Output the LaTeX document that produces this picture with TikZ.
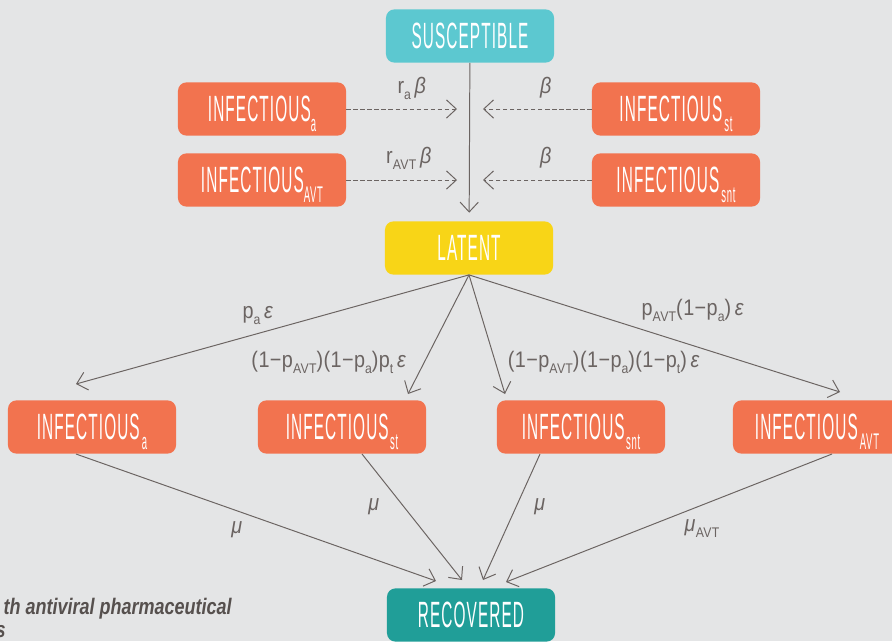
\documentclass[tikz,border=0pt]{standalone}
\usepackage{fontspec}
\setmainfont{Liberation Sans}
\newfontfamily\boxfont[FakeStretch=0.42,LetterSpace=3]{Liberation Sans}
\newfontfamily\ratefont[FakeStretch=0.88,LetterSpace=2]{Liberation Sans}
\newfontfamily\capfont[FakeStretch=0.8]{Liberation Sans}
\usetikzlibrary{arrows.meta}
\definecolor{bggrey}{HTML}{E4E5E6}
\definecolor{linegrey}{HTML}{6B6462}
\definecolor{susccol}{HTML}{5CC8D0}
\definecolor{infcol}{HTML}{F2734F}
\definecolor{latcol}{HTML}{F8D517}
\definecolor{reccol}{HTML}{209E98}
\newcommand\lo[1]{\smash{\raisebox{-0.5ex}{\scalebox{0.62}{#1}}}}
\tikzset{
  comp/.style={fill=#1, rounded corners=6pt, minimum width=4.2cm, minimum height=1.33cm,
    text=white, inner sep=0pt, font=\boxfont\fontsize{26}{28}\selectfont},
  flow/.style={draw=linegrey, line width=0.7pt, -{Straight Barb[length=7pt,width=13pt]}},
  contact/.style={flow, dash pattern=on 3pt off 2pt},
  rate/.style={text=linegrey, inner sep=0pt, font=\ratefont\fontsize{16}{18}\selectfont}
}
\begin{document}
\begin{tikzpicture}[x=0.025cm,y=-0.025cm]
			%%%%% START %%%%%
			
			\fill[bggrey] (0,0) rectangle (892,641);
			\useasboundingbox (0,0) rectangle (892,641);
			
			% compartments
			\node[comp=susccol] (susc) at (470,36) {SUSCEPTIBLE};
			\node[comp=infcol] (ia) at (262,109) {INFECTIOUS\lo{a}};
			\node[comp=infcol] (iavt) at (262,180) {INFECTIOUS\lo{AVT}};
			\node[comp=infcol] (ist) at (676,109) {INFECTIOUS\hspace{1.5pt}\lo{st}};
			\node[comp=infcol] (isnt) at (676,180) {INFECTIOUS\hspace{1.5pt}\lo{snt}};
			\node[comp=latcol] (lat) at (469,248) {LATENT};
			
			\node[comp=infcol] (ia2) at (92,427) {INFECTIOUS\hspace{1.5pt}\lo{a}};
			\node[comp=infcol] (ist2) at (342,427) {INFECTIOUS\hspace{1pt}\lo{st}};
			\node[comp=infcol] (isnt2) at (581,427) {INFECTIOUS\hspace{1pt}\lo{snt}};
			\node[comp=infcol] (iavt2) at (817,427) {INFECTIOUS\hspace{1.5pt}\lo{AVT}};
			\node[comp=reccol] (rec) at (471,615) {RECOVERED};
			
			% infection
			\draw[flow, shorten >=6pt] (susc) -- (lat);
			\coordinate (ja) at (457,109);
			\coordinate (javt) at (457,180);
			\coordinate (jst) at (483,109);
			\coordinate (jsnt) at (483,180);
			\draw[contact] (ia.east) -- (ja);
			\draw[contact] (iavt.east) -- (javt);
			\draw[contact] (ist.west) -- (jst);
			\draw[contact] (isnt.west) -- (jsnt);
			\node[rate] at (412,88) {r\lo{a}\,\textit{β}};
			\node[rate] at (546,88) {\textit{β}};
			\node[rate] at (409,158) {r\lo{AVT}\,\textit{β}};
			\node[rate] at (546,158) {\textit{β}};
			
			% latent to infectious
			\coordinate (fa) at (76,384);
			\coordinate (fst) at (408,394);
			\coordinate (fsnt) at (505,394);
			\coordinate (favt) at (840,392);
			\draw[flow] (lat.south) -- (fa);
			\draw[flow] (lat.south) -- (fst);
			\draw[flow] (lat.south) -- (fsnt);
			\draw[flow] (lat.south) -- (favt);
			\node[rate] at (258,315) {p\lo{a}\,\textit{ε}};
			\node[rate] at (329,362) {(1−p\lo{AVT})(1−p\lo{a})p\lo{t}\,\textit{ε}};
			\node[rate] at (604,362) {(1−p\lo{AVT})(1−p\lo{a})(1−p\lo{t})\,\textit{ε}};
			\node[rate] at (693,310) {p\lo{AVT}(1−p\lo{a})\,\textit{ε}};
			
			% recovery
			\coordinate (ra) at (436,581);
			\coordinate (rst) at (462,580);
			\coordinate (rsnt) at (483,580);
			\coordinate (ravt) at (506,582);
			\draw[flow] (76,454) -- (ra);
			\draw[flow] (362,454) -- (rst);
			\draw[flow] (540,454) -- (rsnt);
			\draw[flow] (832,454) -- (ravt);
			\node[rate] at (237,530) {\textit{μ}};
			\node[rate] at (374,507) {\textit{μ}};
			\node[rate] at (540,507) {\textit{μ}};
			\node[rate] at (702,528) {\textit{μ}\lo{AVT}};
			
			% caption remains
			\node[anchor=east, text=linegrey!80!black, inner sep=0pt, font=\capfont\bfseries\itshape\fontsize{16}{18}\selectfont] (capa) at (232,609) {th antiviral pharmaceutical};
			\node[anchor=east, text=linegrey!80!black, inner sep=0pt, font=\capfont\bfseries\itshape\fontsize{16}{18}\selectfont] (capb) at (6,632) {s};
			
			%%%%% END %%%%%
\end{tikzpicture}
\end{document}
